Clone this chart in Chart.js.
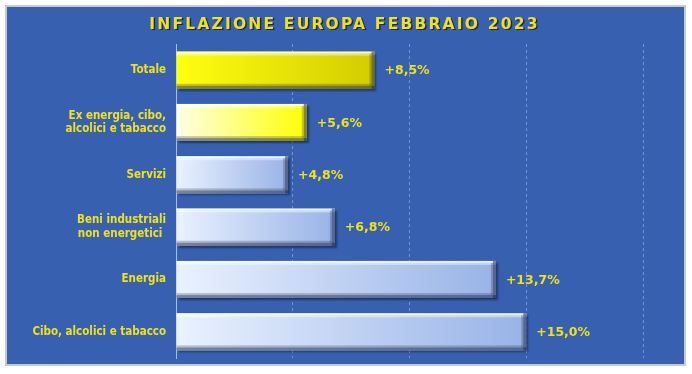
<!DOCTYPE html>
<html lang="it">
<head>
  <meta charset="UTF-8" />
  <title>Inflazione Europa Febbraio 2023</title>
  <script src="https://cdn.jsdelivr.net/npm/chart.js"></script>
  <style>
    html, body {
      margin: 0;
      padding: 0;
      background: #ffffff;
    }

    .frame {
      position: absolute;
      left: 5px;
      top: 5px;
      width: 677px;
      height: 357px;
      border: 2px solid #c9c9c9;
      background: #3761b0;
    }
  </style>
</head>
<body>
  <div class="frame">
    <canvas id="inflChart" width="677" height="357"></canvas>
  </div>

  <script>
    const TITLE = "INFLAZIONE EUROPA FEBBRAIO 2023";

    const categories = [
      "Totale",
      ["Ex energia, cibo,", "alcolici e tabacco"],
      "Servizi",
      ["Beni industriali", "non energetici "],
      "Energia",
      "Cibo, alcolici e tabacco"
    ];

    const values = [8.5, 5.6, 4.8, 6.8, 13.7, 15.0];

    const xTicks = [0, 5, 10, 15, 20];

    // gradient stops per bar (left -> right)
    const barColors = [
      ["#ffff10", "#d4cc00"],
      ["#ffffe8", "#ffff00"],
      ["#eaf2ff", "#98b3e6"],
      ["#eaf2ff", "#98b3e6"],
      ["#eaf2ff", "#98b3e6"],
      ["#eaf2ff", "#98b3e6"]
    ];

    const YELLOW = "#f0e11a";

    function fmt(v) {
      return "+" + v.toFixed(1).replace(".", ",") + "%";
    }

    function barGradient(ctx) {
      const chart = ctx.chart;
      if (!chart.chartArea) return barColors[ctx.dataIndex][1];
      const xs = chart.scales.x;
      const x0 = xs.getPixelForValue(0);
      const x1 = xs.getPixelForValue(ctx.raw);
      const g = chart.ctx.createLinearGradient(x0, 0, x1, 0);
      const c = barColors[ctx.dataIndex];
      g.addColorStop(0, c[0]);
      g.addColorStop(1, c[1]);
      return g;
    }

    const titlePlugin = {
      id: "bigTitle",
      afterDraw(chart) {
        const ctx = chart.ctx;
        ctx.save();
        ctx.font = "bold 15.5px 'DejaVu Sans'";
        ctx.letterSpacing = "2.2px";
        ctx.textAlign = "center";
        ctx.textBaseline = "middle";
        ctx.fillStyle = "#1c2a4a";
        const cx = (chart.chartArea.left + chart.chartArea.right) / 2 - 65;
        ctx.fillText(TITLE, cx + 1.5, 19);
        ctx.fillStyle = YELLOW;
        ctx.fillText(TITLE, cx, 17.5);
        ctx.restore();
      }
    };

    const barLook = {
      id: "barLook",
      beforeDatasetsDraw(chart) {
        const ctx = chart.ctx;
        ctx.save();
        ctx.shadowColor = "rgba(10,20,50,0.55)";
        ctx.shadowOffsetX = 2;
        ctx.shadowOffsetY = 2;
        ctx.shadowBlur = 2;
      },
      afterDatasetsDraw(chart) {
        const ctx = chart.ctx;
        ctx.restore();
        const meta = chart.getDatasetMeta(0);
        ctx.save();
        meta.data.forEach((bar, i) => {
          const left = bar.base, right = bar.x;
          const top = bar.y - bar.height / 2, bottom = bar.y + bar.height / 2;
          // light top bevel
          ctx.fillStyle = "rgba(255,255,255,0.8)";
          ctx.fillRect(left, top, right - left, 2);
          ctx.fillStyle = "rgba(255,255,255,0.4)";
          ctx.fillRect(left, top + 2, right - left, 2);
          // dark bottom/right bevel
          ctx.fillStyle = "rgba(30,40,70,0.55)";
          ctx.fillRect(left, bottom - 3, right - left, 3);
          ctx.fillRect(right - 3, top, 3, bottom - top);
          ctx.fillStyle = "rgba(30,40,70,0.25)";
          ctx.fillRect(left, bottom - 5, right - left - 3, 2);
          ctx.fillRect(right - 5, top + 2, 2, bottom - top - 5);

          // value label
          ctx.font = "bold 12.5px 'DejaVu Sans'";
          ctx.textAlign = "left";
          ctx.textBaseline = "middle";
          ctx.fillStyle = YELLOW;
          ctx.fillText(fmt(values[i]), right + 10, bar.y + 1);
        });
        ctx.restore();
      }
    };

    new Chart(document.getElementById("inflChart").getContext("2d"), {
      type: "bar",
      data: {
        labels: categories,
        datasets: [{
          data: values,
          backgroundColor: barGradient,
          borderWidth: 0,
          barPercentage: 0.71,
          categoryPercentage: 1
        }]
      },
      options: {
        indexAxis: "y",
        responsive: false,
        animation: false,
        layout: {
          padding: { top: 37, right: 41, bottom: 6, left: 0 }
        },
        plugins: {
          legend: { display: false },
          tooltip: { enabled: false }
        },
        scales: {
          x: {
            min: xTicks[0],
            max: xTicks[xTicks.length - 1],
            afterBuildTicks(scale) {
              scale.ticks = xTicks.map(v => ({ value: v }));
            },
            afterFit(scale) {
              scale.height = 0;
              scale.paddingLeft = 0;
              scale.paddingRight = 0;
            },
            ticks: { display: false },
            grid: {
              color: "#7195d6",
              drawTicks: false
            },
            border: { display: false, dash: [3, 3] }
          },
          y: {
            afterFit(scale) {
              scale.width = 169;
              scale.paddingTop = 0;
              scale.paddingBottom = 0;
            },
            grid: { display: false, drawTicks: false },
            border: { display: true, color: "#a8bde6", width: 1 },
            ticks: {
              color: YELLOW,
              padding: 10,
              font: { family: "'DejaVu Sans Condensed', 'DejaVu Sans'", weight: "bold", size: 11.5 }
            }
          }
        }
      },
      plugins: [barLook, titlePlugin]
    });
  </script>
</body>
</html>
